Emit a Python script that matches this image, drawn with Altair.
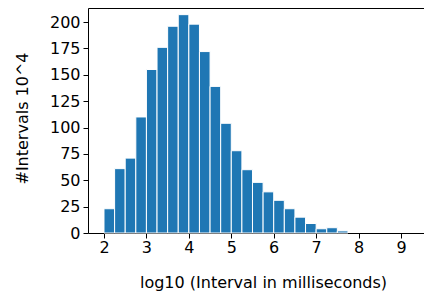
import altair as alt
import pandas as pd

bin_start = [2.0, 2.25, 2.5, 2.75, 3.0, 3.25, 3.5, 3.75, 4.0, 4.25, 4.5, 4.75,
             5.0, 5.25, 5.5, 5.75, 6.0, 6.25, 6.5, 6.75, 7.0, 7.25, 7.5]
bin_end = [2.25, 2.5, 2.75, 3.0, 3.25, 3.5, 3.75, 4.0, 4.25, 4.5, 4.75, 5.0,
           5.25, 5.5, 5.75, 6.0, 6.25, 6.5, 6.75, 7.0, 7.25, 7.5, 7.75]
counts = [23, 61, 71, 110, 155, 176, 196, 207, 198, 172, 139, 104,
          78, 60, 48, 39, 31, 23, 15, 9, 4, 5, 2]
x_ticks = [2, 3, 4, 5, 6, 7, 8, 9]
y_ticks = [0, 25, 50, 75, 100, 125, 150, 175, 200]

df = pd.DataFrame({"start": bin_start, "end": bin_end, "count": counts})

FONT = "DejaVu Sans"
x_scale = alt.Scale(domain=[1.623, 9.542], nice=False, zero=False, padding=0)
y_scale = alt.Scale(domain=[0, 213.3], nice=False, padding=0)
y_axis = alt.Axis(values=y_ticks, title="#Intervals 10^4",
                  grid=False, tickSize=5, labelPadding=3,
                  titleX=-61, titleY=110, titleBaseline="alphabetic",
                  titleAngle=-90)

base = alt.Chart(df)

bars = base.mark_bar(
    color="#1f77b4", stroke="white", strokeWidth=1, orient="vertical"
).encode(
    x=alt.X("start:Q", scale=x_scale,
            axis=alt.Axis(values=x_ticks, title="log10 (Interval in milliseconds)",
                          grid=False, tickSize=5, labelPadding=1, labelFlush=False,
                          titleX=175, titleY=54, titleBaseline="alphabetic")),
    x2="end:Q",
    y=alt.Y("count:Q", scale=y_scale, axis=y_axis),
    y2=alt.datum(0),
)

top_spine = base.mark_point(opacity=0).encode(
    x=alt.X("start:Q", scale=x_scale,
            axis=alt.Axis(orient="top", labels=False, ticks=False, title=None,
                          grid=False, domain=True)),
    y=alt.Y("count:Q", scale=y_scale, axis=y_axis),
)

chart = alt.layer(bars, top_spine).resolve_axis(x="independent").properties(
    width=336, height=225,
    autosize=alt.AutoSizeParams(type="none"),
    padding={"left": 80, "top": 0, "right": 0, "bottom": 58},
).configure_view(
    stroke=None
).configure_axis(
    domainColor="black", tickColor="black", labelColor="black", titleColor="black",
    labelFont=FONT, titleFont=FONT, labelFontSize=16, titleFontSize=16,
    titleFontWeight="normal", domainWidth=1, tickWidth=1
)

chart.save("out.html", embed_options={"renderer": "svg", "actions": False})
